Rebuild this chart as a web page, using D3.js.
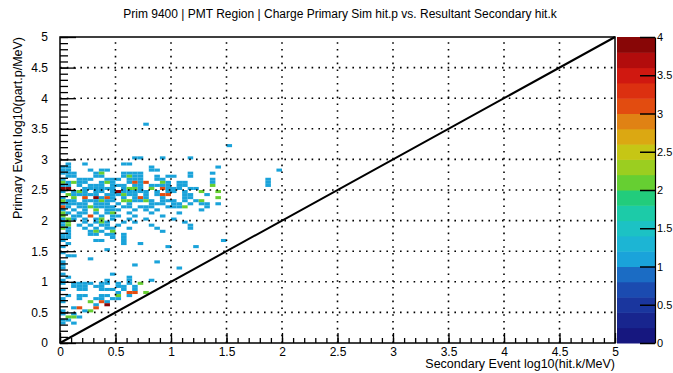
<!DOCTYPE html>
<html>
<head>
<meta charset="utf-8">
<script src="https://cdn.jsdelivr.net/npm/d3@7"></script>
<style>
  html, body { margin: 0; padding: 0; background: #fff; }
  svg { display: block; font-family: "Liberation Sans", Arial, sans-serif; }
</style>
</head>
<body>
<svg id="chart" width="673" height="373"></svg>
<script>
// Histogram binning (log10 MeV units): 0.05-wide bins starting at 0
const binWidth = 0.05;
const axisMax = 5;

// Lower edge (primary axis) of each non-empty row of bins
const rowY = [
  3.55, 3.20, 3.00, 2.90, 2.85, 2.80, 2.75, 2.70, 2.65, 2.60,
  2.55, 2.50, 2.45, 2.40, 2.35, 2.30, 2.25, 2.20, 2.15, 2.10,
  2.05, 2.00, 1.95, 1.90, 1.85, 1.80, 1.75, 1.70, 1.65, 1.60,
  1.55, 1.50, 1.45, 1.40, 1.35, 1.30, 1.25, 1.20, 1.10, 1.05,
  1.00, 0.95, 0.90, 0.85, 0.80, 0.75, 0.70, 0.65, 0.60, 0.55,
  0.50, 0.45, 0.40, 0.35, 0.30
];

// Entries per bin along each row, secondary axis from 0 upward in 0.05 steps
// ('.' = empty bin; spaces only group the bins in fives)
const rowCounts = [
  "..... ..... ..... 1",
  "..... ..... ..... ..... ..... ..... 1",
  "..... ..... ...11 ...1. ...1.",
  ".1..1 ..... .11..",
  "11... ..... ..... .1... ..... ...1.",
  "11... 1.11. ..... .11.. ..... ..... ..... ....1",
  "111.. .12.. .1111 ..... ...1. ..1..",
  ".11.. .11.. .1211 ..1.1 1..1.",
  "1..11 1..11 1.111 ..11. ..... ..1.. ..... ..1..",
  "21211 ..121 ..131 3..21 .11.. ..1.. ..... ..1..",
  "11.1. 111.1 11.11 .1111 .11.. ..2.. ..... ..1..",
  "44..1 11111 .1221 .2.31 11.11",
  "1.121 .11.1 41111 1.1.1 1.1.. 2..2.",
  ".2111 11.11 1211. 1.133 ..11. .1...",
  "1.2.3 .4131 .1.13 1..1. ..11. ...2.",
  "211.1 11211 .2211 21.11 1.1.1 2....",
  "11111 .111. 1.1.. .111. 11.1. 11.1",
  "31.11 21111 .11.1 11..1 112.. .1.",
  "1.1.1 .2.11 1..1. 1.1.. ..... 1",
  "21.11 .1.12 ..1.. .1... .1...",
  "2.11. 3.1.1 1..1. ...1.",
  "121.1 .12.1 ..1.. 1.... 1....",
  "12..1 .121. .1.1. ..... ..1..",
  "12.1. 1.11. 1.... .1... ...1.",
  "21..1 .1.11 ..1.. ..1.. ...1.",
  ".1... 121.2 ..... ...1.",
  "11... 11.11 .1...",
  "11... ....1 .1...",
  "1.... .11.. .1... ..... ..... ....1",
  ".1... ..... .1..1",
  "1.... ..... ..... ....1 ....1",
  "..... ...1.",
  "1",
  ".11",
  "..... 1",
  "1.... ..... ..... ..1",
  "1.... ..... ...1.",
  "1.... ..... ..... ..... .1",
  "1.... ....1",
  ".1... ..... ..1",
  "1.... ...1. ..1.. .1",
  "1.111 1.11. 1.1.2",
  "..111 .11.. 11.1.",
  "1..11 ..111 .1.1.",
  "..... ..... 1.33. 2",
  ".1.11 ..11. 2.1..",
  "1..1. .11.1 1",
  "1.... 2.31.",
  "..... .1.4.",
  "..13. .3...",
  "1...1 2....",
  "1.1..",
  ".221.",
  "11...",
  "1.1.."
];

// Axis ticks
const majorTicks = d3.range(0, 5.0001, 0.5).map(v => +v.toFixed(1));
const minorTicks = d3.range(0, 5.0001, 0.1).map(v => +v.toFixed(1));
const zTicks = [0, 0.5, 1, 1.5, 2, 2.5, 3, 3.5, 4];
const zMax = 4;

// 20-level rainbow palette, from low to high
const palette = [
  "#16177f", "#18258e", "#1a369e", "#1b4bb0", "#1b6cc4",
  "#1aa3da", "#1cb5d4", "#1cc2c4", "#1ccba8", "#22cc7c",
  "#66cf32", "#9bce20", "#c6c615", "#dba812", "#e08214",
  "#e24c10", "#dc3010", "#d01810", "#b20c0c", "#880606"
];

const titleText = "Prim 9400 | PMT Region | Charge Primary Sim hit.p vs. Resultant Secondary hit.k";
const xTitle = "Secondary Event log10(hit.k/MeV)";
const yTitle = "Primary Event log10(part.p/MeV)";

const svg = d3.select("#chart");
const plot = { left: 60, right: 615, top: 37, bottom: 343 };
const x = d3.scaleLinear().domain([0, axisMax]).range([plot.left, plot.right]);
const y = d3.scaleLinear().domain([0, axisMax]).range([plot.bottom, plot.top]);
const zBand = d3.scaleQuantize().domain([0, zMax]).range(palette);
const colorOf = v => v >= zMax ? palette[palette.length - 1] : zBand(v);

// Expand the rows into individual filled bins
const cells = [];
rowCounts.forEach((row, r) => {
  row.replace(/ /g, "").split("").forEach((ch, col) => {
    if (ch !== ".") cells.push({ x: +(col * binWidth).toFixed(2), y: rowY[r], n: +ch });
  });
});

svg.append("g").selectAll("rect").data(cells).join("rect")
  .attr("x", d => x(d.x))
  .attr("y", d => y(d.y + binWidth))
  .attr("width", d => x(d.x + binWidth) - x(d.x))
  .attr("height", d => y(d.y) - y(d.y + binWidth))
  .attr("fill", d => colorOf(d.n));

// Dotted grid at major divisions
const grid = svg.append("g").attr("stroke", "#000").attr("stroke-width", 1.6)
  .attr("stroke-dasharray", "1.6,5.2");
grid.selectAll("line.gx").data(majorTicks.slice(1, -1)).join("line")
  .attr("x1", d => x(d)).attr("x2", d => x(d))
  .attr("y1", plot.bottom).attr("y2", plot.top);
grid.selectAll("line.gy").data(majorTicks.slice(1, -1)).join("line")
  .attr("y1", d => y(d)).attr("y2", d => y(d))
  .attr("x1", plot.left).attr("x2", plot.right);

// y = x reference line
svg.append("line")
  .attr("x1", x(0)).attr("y1", y(0)).attr("x2", x(axisMax)).attr("y2", y(axisMax))
  .attr("stroke", "#000").attr("stroke-width", 2);

// Axes (ticks pointing inward)
const fontSize = 12;
const xMinor = svg.append("g").attr("transform", `translate(0,${plot.bottom})`)
  .call(d3.axisBottom(x).tickValues(minorTicks).tickSizeInner(-5).tickSizeOuter(0).tickFormat(""));
const xMajor = svg.append("g").attr("transform", `translate(0,${plot.bottom})`)
  .call(d3.axisBottom(x).tickValues(majorTicks).tickSizeInner(-10).tickSizeOuter(0)
    .tickPadding(4).tickFormat(d3.format("~g")));
const yMinor = svg.append("g").attr("transform", `translate(${plot.left},0)`)
  .call(d3.axisLeft(y).tickValues(minorTicks).tickSizeInner(-8).tickSizeOuter(0).tickFormat(""));
const yMajor = svg.append("g").attr("transform", `translate(${plot.left},0)`)
  .call(d3.axisLeft(y).tickValues(majorTicks).tickSizeInner(-16).tickSizeOuter(0)
    .tickPadding(12).tickFormat(d3.format("~g")));
[xMinor, xMajor, yMinor, yMajor].forEach(g => {
  g.select(".domain").remove();
  g.selectAll(".tick line").attr("stroke", "#000").attr("stroke-width", 1.3);
  g.selectAll(".tick text").attr("font-size", fontSize).attr("fill", "#000")
    .attr("font-family", "'Liberation Sans', Arial, sans-serif");
});

// Frame
svg.append("rect")
  .attr("x", plot.left).attr("y", plot.top)
  .attr("width", plot.right - plot.left).attr("height", plot.bottom - plot.top)
  .attr("fill", "none").attr("stroke", "#000").attr("stroke-width", 1.5);

// Colour bar
const bar = { left: 617, right: 655 };
const z = d3.scaleLinear().domain([0, zMax]).range([plot.bottom, plot.top]);
const step = zMax / palette.length;
svg.append("g").selectAll("rect").data(palette).join("rect")
  .attr("x", bar.left)
  .attr("y", (c, i) => z((i + 1) * step))
  .attr("width", bar.right - bar.left)
  .attr("height", (c, i) => z(i * step) - z((i + 1) * step) + 0.5)
  .attr("fill", c => c);
const zAxis = svg.append("g").attr("transform", `translate(${bar.right},0)`)
  .call(d3.axisRight(z).tickValues(zTicks).tickSizeInner(-15).tickSizeOuter(0)
    .tickPadding(2).tickFormat(d3.format("~g")));
zAxis.select(".domain").attr("stroke", "#000").attr("stroke-width", 1.2);
zAxis.selectAll(".tick line").attr("stroke", "#000").attr("stroke-width", 1.5);
zAxis.selectAll(".tick text").attr("font-size", 11).attr("fill", "#000")
  .attr("font-family", "'Liberation Sans', Arial, sans-serif");

// Titles
svg.append("text").attr("x", 340).attr("y", 18).attr("text-anchor", "middle")
  .attr("font-size", 12).text(titleText);
svg.append("text").attr("x", plot.right).attr("y", 368).attr("text-anchor", "end")
  .attr("font-size", 12.5).text(xTitle);
svg.append("text")
  .attr("transform", `translate(22,${plot.top}) rotate(-90)`)
  .attr("text-anchor", "end").attr("font-size", 12.5).text(yTitle);
</script>
</body>
</html>
